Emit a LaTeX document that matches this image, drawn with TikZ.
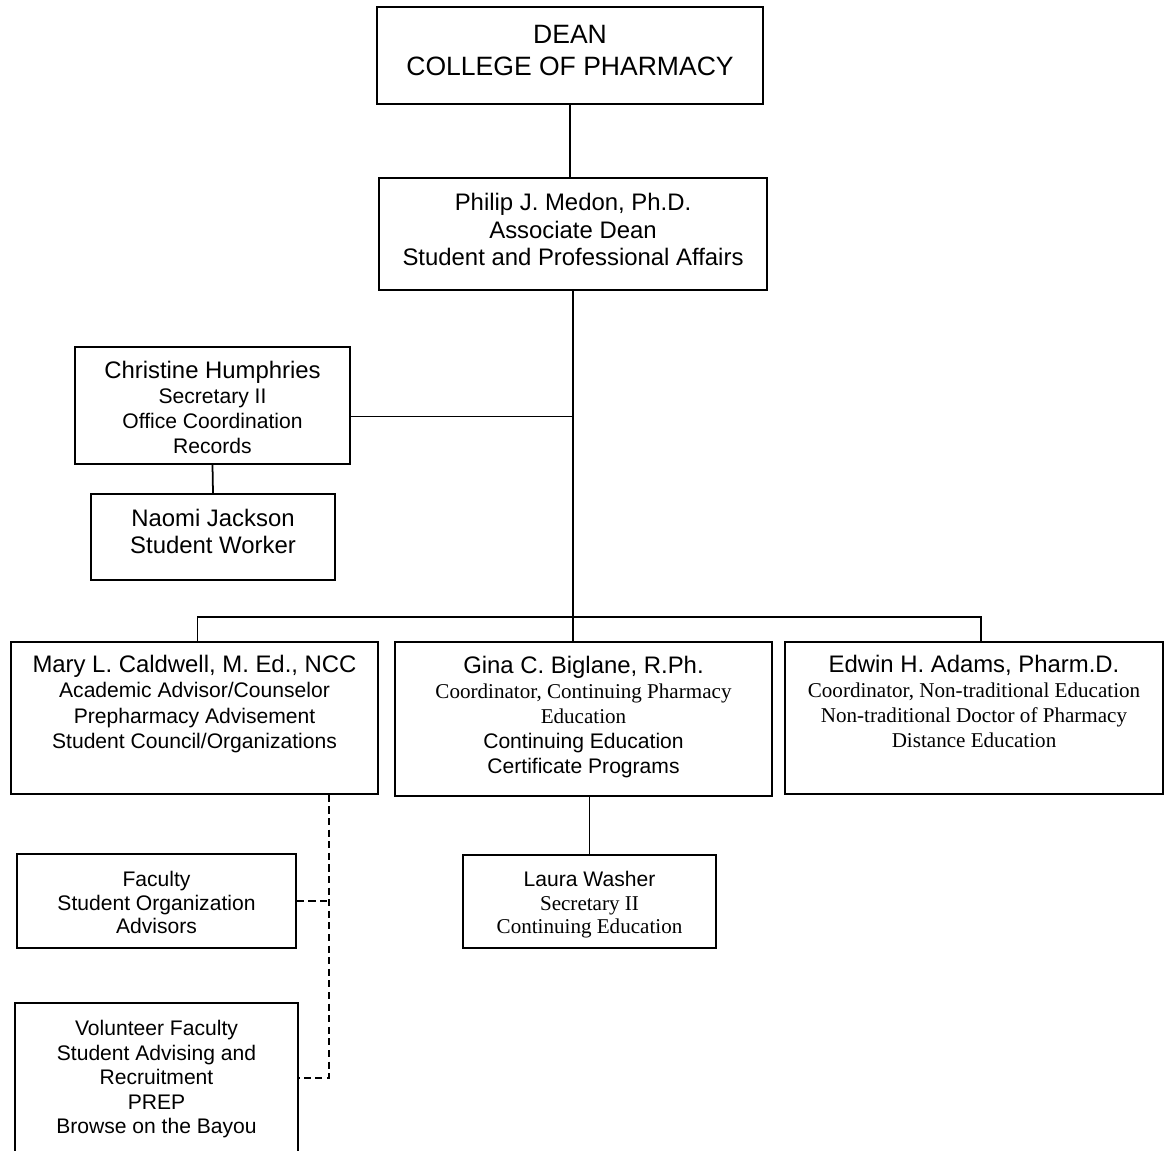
\documentclass[tikz,border=0pt]{standalone}
\usepackage{fontspec}
\setmainfont{Liberation Sans}
\newfontfamily\timesfont{Liberation Serif}
\usetikzlibrary{positioning, fit, calc}

\newcommand{\subsize}{\fontsize{12}{14}\selectfont}
\newcommand{\timessize}{\timesfont\fontsize{12}{14}\selectfont}

\tikzset{
	unitbox/.style={draw, line width=1pt, inner sep=0pt},
	unittext/.style={anchor=north, align=center, inner sep=0pt},
	link/.style={line width=1pt},
	dashlink/.style={line width=0.9pt, dash pattern=on 4pt off 2.6pt},
}

\begin{document}
\begin{tikzpicture}[x=0.02cm, y=-0.02cm]
			\useasboundingbox (0,0) rectangle (1165,1150);
			
			\node[unitbox, fit={(377,7) (763,104)}] (dean) {};
			\node[unitbox, fit={(379,178) (767,290)}] (medon) {};
			\node[unitbox, fit={(75,347) (350,464)}] (christine) {};
			\node[unitbox, fit={(91,494) (335,580)}] (naomi) {};
			\node[unitbox, fit={(11,642) (378,794)}] (mary) {};
			\node[unitbox, fit={(395,642) (772,796)}] (gina) {};
			\node[unitbox, fit={(785,642) (1163,794)}] (edwin) {};
			\node[unitbox, fit={(17,854) (296,948)}] (faculty) {};
			\node[unitbox, fit={(15,1003) (298,1153)}] (volunteer) {};
			\node[unitbox, fit={(463,855) (716,948)}] (laura) {};
			
			\node[unittext, font=\fontsize{15.1}{18.1}\selectfont] (dean text) at ($(dean.north)+(0,19)$) {DEAN\\COLLEGE OF PHARMACY};
			\node[unittext, font=\fontsize{13.6}{15.5}\selectfont] (medon text) at ($(medon.north)+(0,16)$) {Philip J. Medon, Ph.D.\\Associate Dean\\Student and Professional Affairs};
			\node[unittext, font=\fontsize{13.6}{14.2}\selectfont] (christine text) at ($(christine.north)+(0,15)$) {Christine Humphries\\{\subsize Secretary II}\\{\subsize Office Coordination}\\{\subsize Records}};
			\node[unittext, font=\fontsize{13.6}{15}\selectfont] (naomi text) at ($(naomi.north)+(0,16)$) {Naomi Jackson\\Student Worker};
			\node[unittext, font=\fontsize{13.6}{14.3}\selectfont] (mary text) at ($(mary.north)+(0,14)$) {Mary L. Caldwell, M. Ed., NCC\\{\subsize Academic Advisor/Counselor}\\{\subsize Prepharmacy Advisement}\\{\subsize Student Council/Organizations}};
			\node[unittext, font=\fontsize{13.6}{14.2}\selectfont] (gina text) at ($(gina.north)+(0,15)$) {Gina C. Biglane, R.Ph.\\{\timessize Coordinator, Continuing Pharmacy}\\{\timessize Education}\\{\subsize Continuing Education}\\{\subsize Certificate Programs}};
			\node[unittext, font=\fontsize{13.6}{14.2}\selectfont] (edwin text) at ($(edwin.north)+(0,14)$) {Edwin H. Adams, Pharm.D.\\{\timessize Coordinator, Non-traditional Education}\\{\timessize Non-traditional Doctor of Pharmacy}\\{\timessize Distance Education}};
			\node[unittext, font=\fontsize{12}{13.4}\selectfont] (faculty text) at ($(faculty.north)+(0,18)$) {Faculty\\Student Organization\\Advisors};
			\node[unittext, font=\fontsize{12}{13.9}\selectfont] (volunteer text) at ($(volunteer.north)+(0,18)$) {Volunteer Faculty\\Student Advising and\\Recruitment\\PREP\\Browse on the Bayou};
			\node[unittext, font=\fontsize{12}{13.4}\selectfont] (laura text) at ($(laura.north)+(0,17)$) {Laura Washer\\{\timessize Secretary II}\\{\timessize Continuing Education}};
			
			\coordinate (bar) at (573,617);
			\coordinate (office) at ($(christine.east)+(0,11)$);
			\coordinate (advise) at (mary.south -| 329,0);
			\coordinate (mary top) at ($(mary.north)+(3,0)$);
			\coordinate (edwin top) at ($(edwin.north)+(7,0)$);
			
			\draw[link] (dean.south) -- (dean.south |- medon.north);
			\draw[link] (medon.south) -- (gina.north -| medon.south);
			\draw[link] (office) -- (office -| medon.south);
			\draw[link] (christine.south) -- (naomi.north);
			\draw[link] (mary top) -- (mary top |- bar) -- (edwin top |- bar) -- (edwin top);
			\draw[link] (laura.north) -- (laura.north |- gina.south);
			
			\draw[dashlink] (advise) -- (advise |- volunteer.east) -- (volunteer.east);
			\draw[dashlink] (faculty.east) -- (faculty.east -| advise);
		\end{tikzpicture}
\end{document}
